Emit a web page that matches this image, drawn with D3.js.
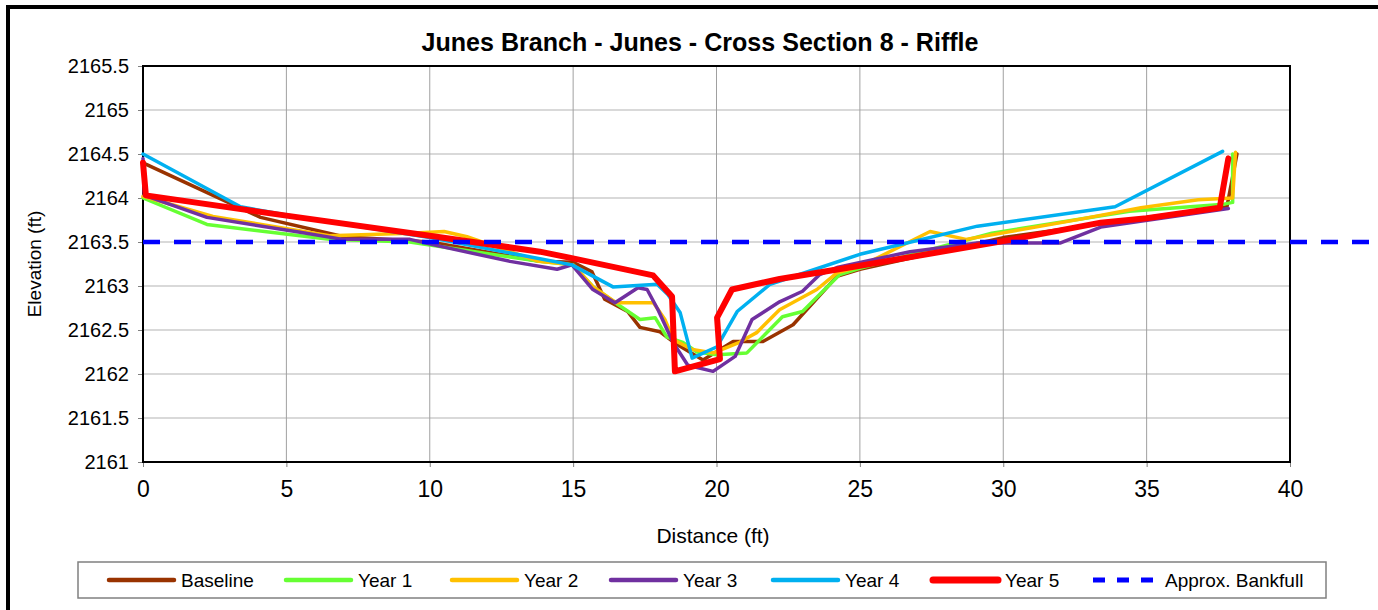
<!DOCTYPE html>
<html>
<head>
<meta charset="utf-8">
<script src="https://cdn.jsdelivr.net/npm/d3@7"></script>
<style>
  html, body { margin: 0; padding: 0; background: #fff; }
  svg { display: block; font-family: "Liberation Sans", Arial, sans-serif; }
</style>
</head>
<body>
<svg id="chart" width="1378" height="610"></svg>
<script>
// ---------------- data ----------------
const chartTitle = "Junes Branch - Junes - Cross Section 8 - Riffle";
const xTickValues = [0, 5, 10, 15, 20, 25, 30, 35, 40];
const yTickValues = [2161, 2161.5, 2162, 2162.5, 2163, 2163.5, 2164, 2164.5, 2165, 2165.5];
const yTickLabels = ["2161", "2161.5", "2162", "2162.5", "2163", "2163.5", "2164", "2164.5", "2165", "2165.5"];

const baseline = [[0,2164.4],[4.1,2163.78],[7,2163.56],[10,2163.5],[13.84,2163.28],[15,2163.27],[15.66,2163.16],[16.1,2162.85],[16.9,2162.71],[17.33,2162.53],[18.03,2162.48],[18.6,2162.34],[19.53,2162.16],[20.58,2162.37],[21.62,2162.37],[22.67,2162.56],[24.2,2163.11],[25,2163.19],[30,2163.55],[35,2163.78],[37.8,2163.9],[38.15,2164.5]];
const year1 = [[0,2164.0],[2.23,2163.7],[6.5,2163.53],[9.3,2163.5],[13.84,2163.28],[15,2163.24],[15.7,2162.99],[16.56,2162.79],[17.33,2162.62],[17.86,2162.64],[18.27,2162.42],[18.83,2162.36],[19.32,2162.25],[20.02,2162.22],[21.06,2162.24],[22.3,2162.65],[23.0,2162.71],[24.3,2163.13],[25,2163.2],[29.6,2163.6],[34.4,2163.85],[37.7,2163.93],[38.0,2163.95],[38.0,2164.5]];
const year2 = [[0,2164.02],[2.44,2163.79],[6.5,2163.57],[9.3,2163.6],[10.5,2163.62],[11.3,2163.56],[13.8,2163.28],[15,2163.24],[15.7,2162.99],[16.5,2162.81],[17.8,2162.81],[18.2,2162.62],[18.5,2162.39],[19.15,2162.28],[19.9,2162.24],[20.8,2162.36],[21.4,2162.47],[22.2,2162.73],[23.5,2162.96],[24.2,2163.15],[25,2163.22],[27.45,2163.62],[28.7,2163.53],[32.7,2163.76],[34.8,2163.89],[36.8,2163.98],[38.0,2164.0],[38.1,2164.52]];
const year3 = [[0,2164.45],[0.05,2164.03],[2.23,2163.78],[5.48,2163.61],[6.97,2163.53],[9.31,2163.53],[10.1,2163.47],[12.8,2163.28],[14.44,2163.19],[14.96,2163.24],[15.69,2162.96],[16.46,2162.81],[17.26,2162.98],[17.58,2162.96],[17.96,2162.73],[18.48,2162.36],[19.0,2162.1],[19.88,2162.03],[20.65,2162.2],[21.24,2162.62],[22.2,2162.82],[23.0,2162.94],[23.6,2163.13],[24.2,2163.21],[26.75,2163.39],[29.1,2163.49],[32.0,2163.49],[33.4,2163.67],[37.85,2163.88]];
const year4 = [[0,2164.5],[3.4,2163.9],[5.5,2163.78],[10,2163.55],[13.84,2163.31],[14.96,2163.24],[16.39,2162.99],[17.93,2163.02],[18.31,2162.9],[18.73,2162.7],[19.15,2162.18],[20.02,2162.31],[20.72,2162.71],[21.87,2163.02],[25,2163.36],[29.1,2163.68],[33.9,2163.9],[37.65,2164.53]];
const year5 = [[0,2164.4],[0.1,2164.03],[5,2163.8],[10,2163.57],[13.84,2163.39],[15.2,2163.3],[17.79,2163.12],[18.45,2162.88],[18.55,2162.03],[20.12,2162.17],[20.02,2162.64],[20.54,2162.96],[22.2,2163.08],[25,2163.23],[30,2163.51],[33.4,2163.72],[35,2163.77],[37.55,2163.89],[37.85,2164.45]];
const bankfull = [[0,2163.5],[43,2163.5]];

const seriesNames = ["Baseline", "Year 1", "Year 2", "Year 3", "Year 4", "Year 5", "Approx. Bankfull"];
const seriesColors = ["#993300", "#66FF33", "#FFC000", "#7030A0", "#00B0F0", "#FF0000", "#0000FF"];

// ---------------- layout ----------------
const svg = d3.select("#chart");
const plot = { left: 143, right: 1290, top: 66, bottom: 462 };

const x = d3.scaleLinear().domain([0, 40]).range([plot.left, plot.right]);
const y = d3.scaleLinear().domain([2161, 2165.5]).range([plot.bottom, plot.top]);

// outer frame
svg.append("rect").attr("x", 8).attr("y", 7).attr("width", 1420).attr("height", 700)
  .attr("fill", "none").attr("stroke", "#000").attr("stroke-width", 4);

// title
svg.append("text").attr("x", 700).attr("y", 51).attr("text-anchor", "middle")
  .attr("font-size", 25).attr("font-weight", "bold").attr("fill", "#000")
  .attr("textLength", 557).attr("lengthAdjust", "spacingAndGlyphs").text(chartTitle);

// gridlines
svg.append("g").selectAll("line").data(yTickValues).join("line")
  .attr("x1", plot.left).attr("x2", plot.right)
  .attr("y1", d => y(d)).attr("y2", d => y(d))
  .attr("stroke", "#cccccc").attr("stroke-width", 1.5);
svg.append("g").selectAll("line").data(xTickValues).join("line")
  .attr("x1", d => x(d)).attr("x2", d => x(d))
  .attr("y1", plot.top).attr("y2", plot.bottom)
  .attr("stroke", "#a0a0a0").attr("stroke-width", 1);

// axes
const yAxis = d3.axisLeft(y).tickValues(yTickValues).tickSize(5).tickPadding(9)
  .tickFormat((d, i) => yTickLabels[i]);
const gy = svg.append("g").attr("transform", `translate(${plot.left},0)`).call(yAxis);
gy.select(".domain").remove();
gy.selectAll(".tick line").attr("stroke", "#808080");
gy.selectAll(".tick text").attr("font-size", 20).attr("fill", "#000")
  .attr("font-family", "'Liberation Sans', Arial, sans-serif");

const xAxis = d3.axisBottom(x).tickValues(xTickValues).tickSize(5).tickPadding(14);
const gx = svg.append("g").attr("transform", `translate(0,${plot.bottom})`).call(xAxis);
gx.select(".domain").remove();
gx.selectAll(".tick line").attr("stroke", "#808080");
gx.selectAll(".tick text").attr("font-size", 23).attr("fill", "#000")
  .attr("font-family", "'Liberation Sans', Arial, sans-serif");

// plot border
svg.append("rect").attr("x", plot.left).attr("y", plot.top)
  .attr("width", plot.right - plot.left).attr("height", plot.bottom - plot.top)
  .attr("fill", "none").attr("stroke", "#000").attr("stroke-width", 2);

// axis titles
svg.append("text").attr("transform", `translate(41,${(plot.top + plot.bottom) / 2}) rotate(-90)`)
  .attr("text-anchor", "middle").attr("font-size", 19).attr("fill", "#000").text("Elevation (ft)");
svg.append("text").attr("x", 713).attr("y", 543).attr("text-anchor", "middle")
  .attr("font-size", 21).attr("fill", "#000").text("Distance (ft)");

// series
const line = d3.line().x(d => x(d[0])).y(d => y(d[1]));
const seriesData = [baseline, year1, year2, year3, year4, year5];
const widths = [3.5, 3.5, 3.5, 3.5, 3.5, 6];
seriesData.forEach((s, i) => {
  svg.append("path").datum(s).attr("d", line)
    .attr("fill", "none").attr("stroke", seriesColors[i]).attr("stroke-width", widths[i])
    .attr("stroke-linejoin", "round").attr("stroke-linecap", "round");
});
svg.append("path").datum(bankfull).attr("d", line)
  .attr("fill", "none").attr("stroke", seriesColors[6]).attr("stroke-width", 4.5)
  .attr("stroke-dasharray", "17,14").attr("stroke-linecap", "butt");

// legend
svg.append("rect").attr("x", 78).attr("y", 562).attr("width", 1248).attr("height", 36)
  .attr("fill", "#fff").attr("stroke", "#808080").attr("stroke-width", 1.5);
const legLineX = [109, 286, 452, 611, 773, 933, 1093];
const legY = 580;
seriesNames.forEach((n, i) => {
  const g = svg.append("g");
  if (i < 6) {
    g.append("line").attr("x1", legLineX[i]).attr("x2", legLineX[i] + 65)
      .attr("y1", legY).attr("y2", legY)
      .attr("stroke", seriesColors[i]).attr("stroke-width", i === 5 ? 7 : 4.5)
      .attr("stroke-linecap", "round");
  } else {
    g.append("line").attr("x1", legLineX[i]).attr("x2", legLineX[i] + 65)
      .attr("y1", legY).attr("y2", legY)
      .attr("stroke", seriesColors[i]).attr("stroke-width", 5)
      .attr("stroke-dasharray", "12,12");
  }
  g.append("text").attr("x", legLineX[i] + 72).attr("y", legY + 7)
    .attr("font-size", 19).attr("fill", "#000").text(n);
});
</script>
</body>
</html>
